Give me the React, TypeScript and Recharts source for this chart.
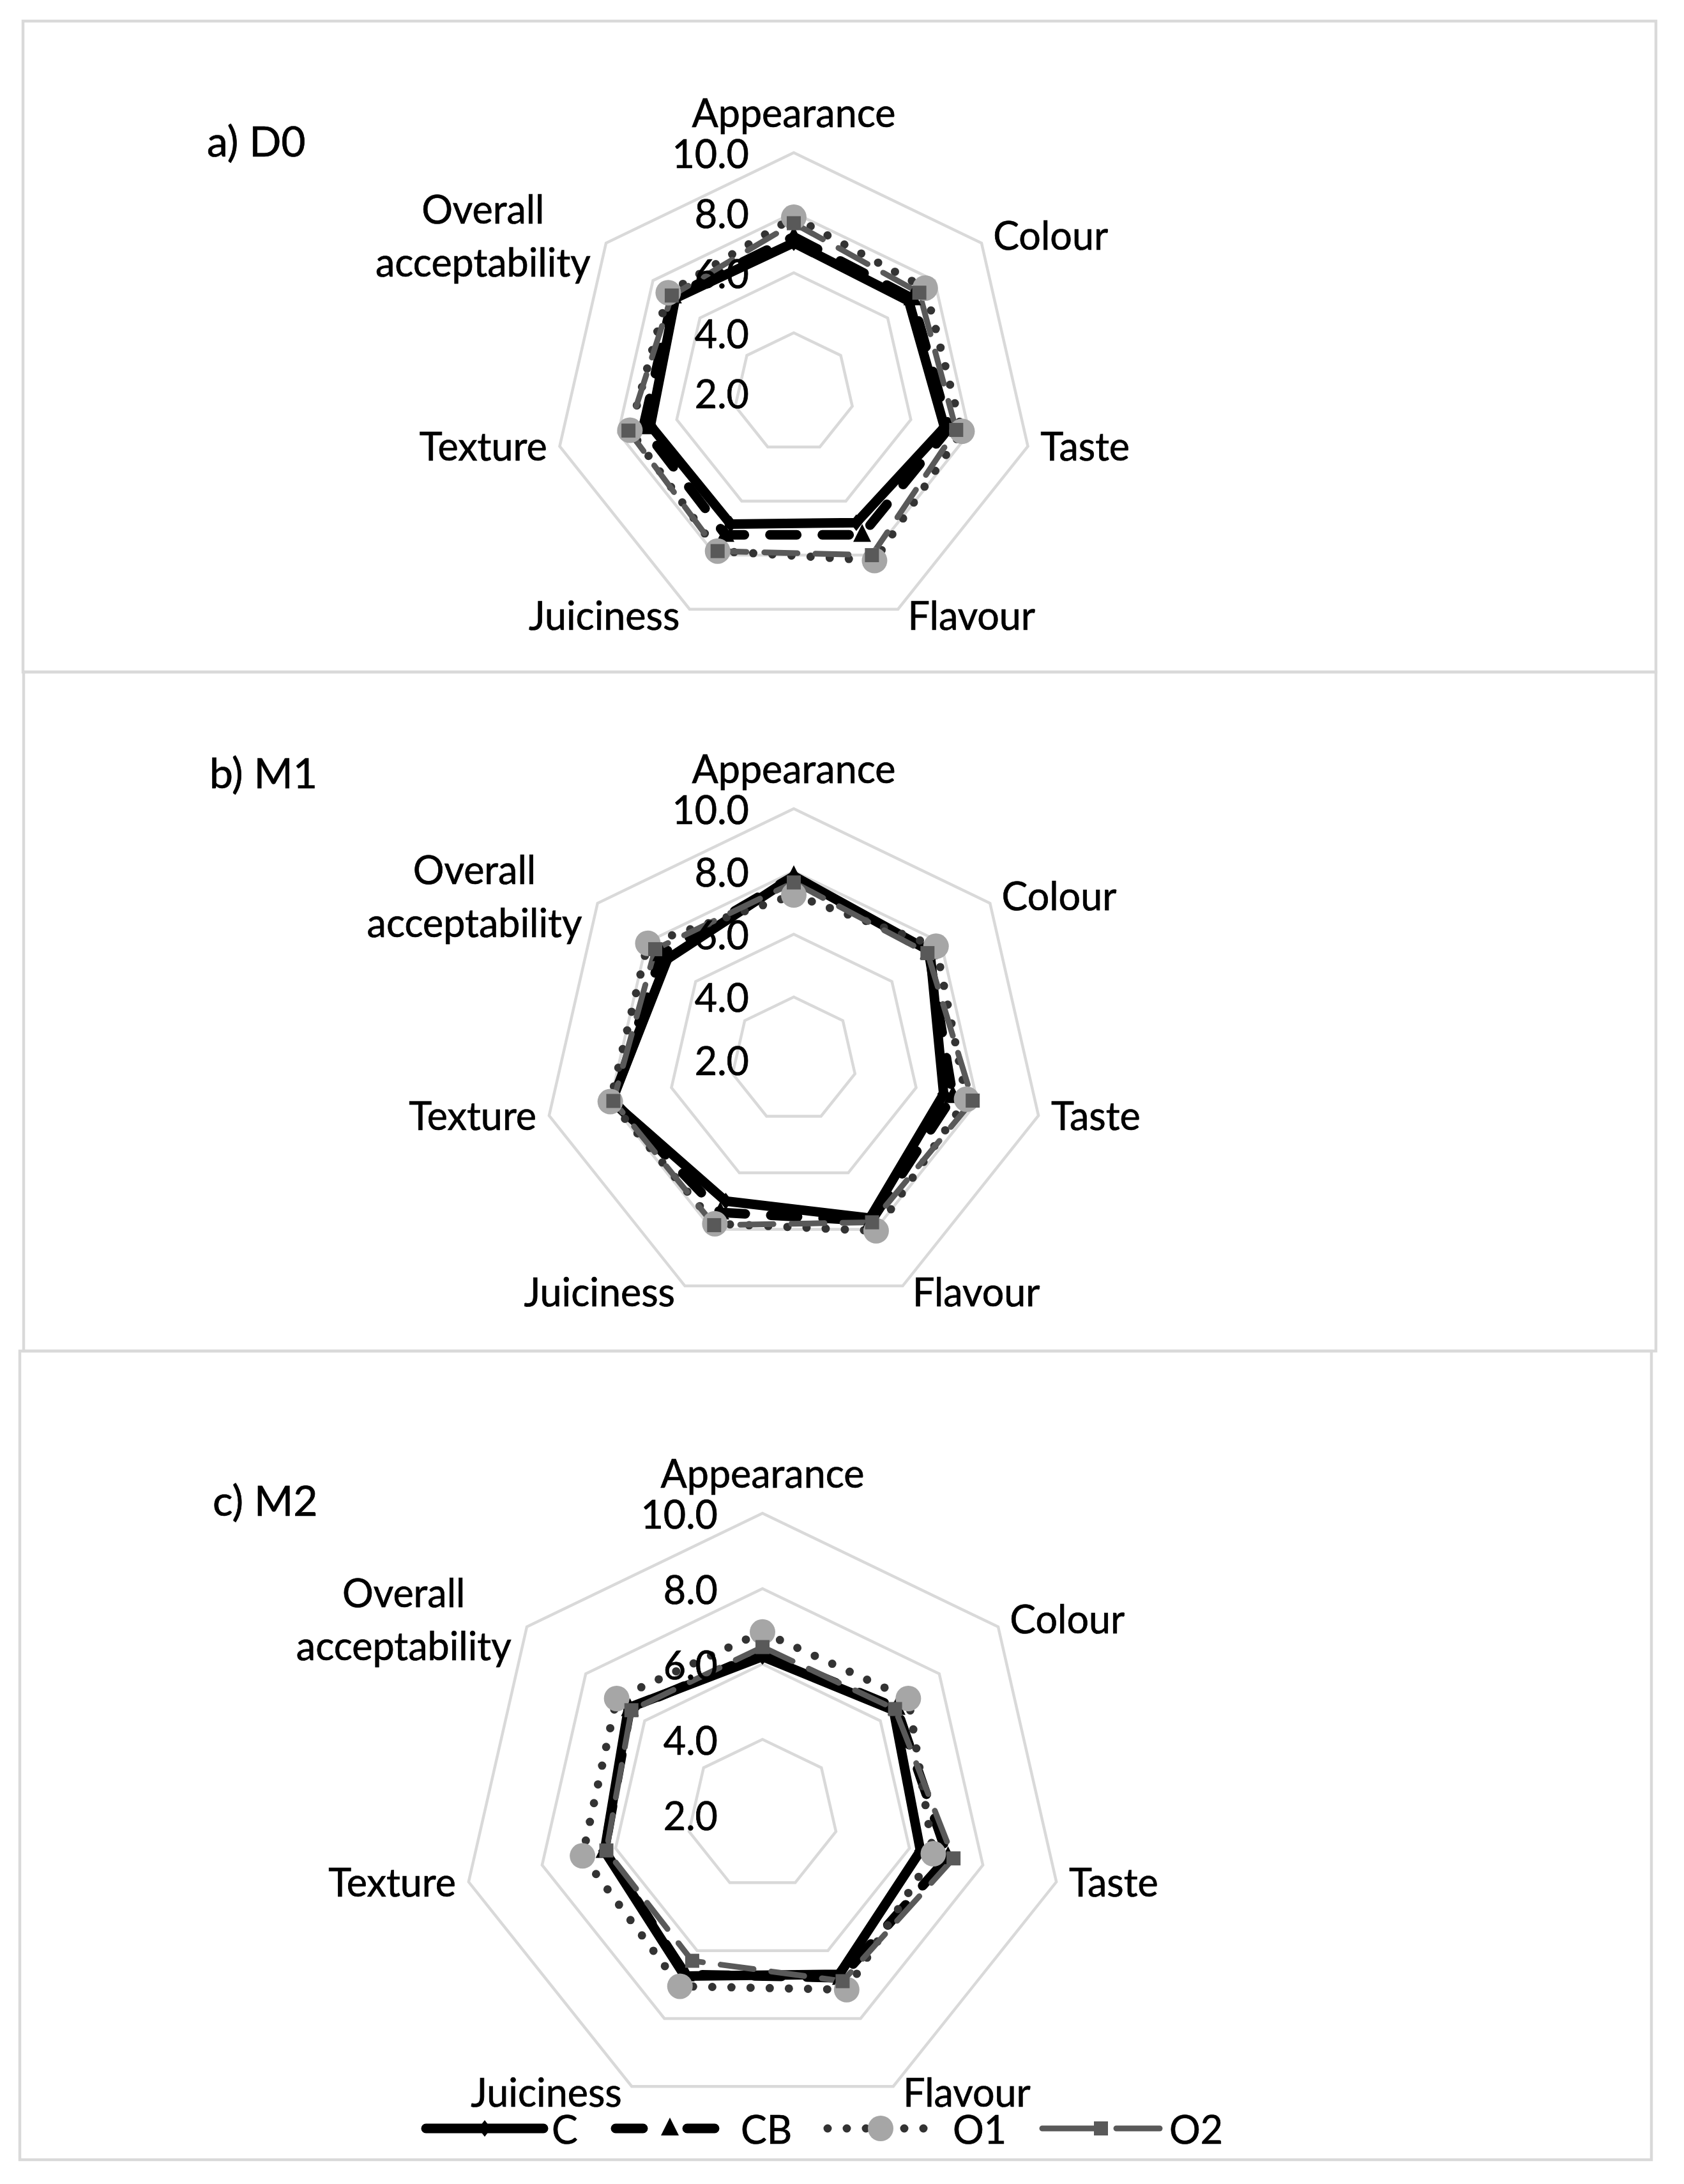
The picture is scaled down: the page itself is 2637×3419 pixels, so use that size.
import React from "react";
import { RadarChart, Radar, PolarGrid, PolarAngleAxis, PolarRadiusAxis, Legend } from "recharts";

const attributes = ["Appearance", "Colour", "Taste", "Flavour", "Juiciness", "Texture", "Overall acceptability"];
const radiusTicks = [2, 4, 6, 8, 10];
const seriesNames = ["C", "CB", "O1", "O2"];

// a) D0
const d0C = [7.0, 6.9, 7.15, 6.8, 6.85, 6.9, 7.05];
const d0CB = [7.2, 7.05, 7.3, 7.25, 7.25, 7.15, 7.15];
const d0O1 = [7.85, 7.6, 7.75, 8.2, 7.85, 7.6, 7.35];
const d0O2 = [7.65, 7.35, 7.55, 8.0, 7.85, 7.65, 7.2];

// b) M1
const m1C = [7.85, 7.55, 6.9, 7.6, 7.0, 7.95, 7.15];
const m1CB = [7.85, 7.5, 7.2, 7.7, 7.4, 7.9, 7.4];
const m1O1 = [7.25, 7.8, 7.65, 8.05, 7.8, 8.0, 7.95];
const m1O2 = [7.65, 7.45, 7.85, 7.75, 7.85, 7.9, 7.65];

// c) M2
const m2C = [6.2, 6.45, 6.3, 6.7, 6.75, 6.3, 6.55];
const m2CB = [6.3, 6.55, 7.05, 6.8, 6.7, 6.3, 6.5];
const m2O1 = [6.85, 6.95, 6.65, 7.15, 7.05, 6.9, 6.95];
const m2O2 = [6.45, 6.5, 7.2, 6.9, 6.3, 6.25, 6.45];

const FONT = "Lato, 'Noto Sans', sans-serif";
const LABEL_SIZE = 61;
const GRID = "#D9D9D9";

const toRows = (c: number[], cb: number[], o1: number[], o2: number[]) =>
  attributes.map((attr, i) => ({ attr, C: c[i], CB: cb[i], O1: o1[i], O2: o2[i] }));

const panels = [
  { title: "a) D0", box: [34, 31, 2561, 1023], titleAt: [324, 245], cx: 1243, cy: 615, r: 376, rows: toRows(d0C, d0CB, d0O1, d0O2) },
  { title: "b) M1", box: [35, 1050, 2560, 1067], titleAt: [328, 1234], cx: 1243, cy: 1659, r: 393, rows: toRows(m1C, m1CB, m1O1, m1O2) },
  { title: "c) M2", box: [29, 2113, 2559, 1270], titleAt: [333, 2373], cx: 1194, cy: 2841, r: 472, rows: toRows(m2C, m2CB, m2O1, m2O2), legend: true },
];

const diamond = (p: any) => (
  <path key={`dm-${p.index}`} d={`M${p.cx},${p.cy - 13}L${p.cx + 10},${p.cy}L${p.cx},${p.cy + 13}L${p.cx - 10},${p.cy}Z`} fill="#000" stroke="none" />
);
const triangle = (p: any) => (
  <path key={`tr-${p.index}`} d={`M${p.cx},${p.cy - 17}L${p.cx + 14},${p.cy + 11}L${p.cx - 14},${p.cy + 11}Z`} fill="#000" stroke="none" />
);
const circle = (p: any) => <circle key={`ci-${p.index}`} cx={p.cx} cy={p.cy} r={20} fill="#A6A6A6" stroke="none" />;
const square = (p: any) => <rect key={`sq-${p.index}`} x={p.cx - 11} y={p.cy - 11} width={22} height={22} fill="#595959" stroke="none" />;

const seriesStyle: Record<string, any> = {
  C: { stroke: "#000000", width: 15, dash: undefined, legendDash: undefined, dot: diamond },
  CB: { stroke: "#000000", width: 15, dash: "42 40", legendDash: "43 69", dot: triangle },
  O1: { stroke: "#333333", width: 13, dash: "0 30", legendDash: "0 30", dot: circle },
  O2: { stroke: "#595959", width: 9, dash: "52 28", legendDash: "82 34", dot: square },
};

const textInk = { fill: "#000", stroke: "#000", strokeWidth: 0.7 };

function AngleTick(props: any) {
  const { x, y, payload } = props;
  const a = (payload.coordinate * Math.PI) / 180;
  const c = Math.cos(a);
  const s = Math.sin(a);
  const text = String(payload.value);
  const words = text.split(" ");
  const common = { fontFamily: FONT, fontSize: LABEL_SIZE, dominantBaseline: "central" as any, ...textInk };
  if (Math.abs(c) < 0.01) {
    return <text x={x} y={y - 56} textAnchor="middle" {...common}>{text}</text>;
  }
  const gap = 12;
  const yc = y - 6 * s - 4;
  if (words.length > 1) {
    // wrapped label, lines centred on each other
    const longest = Math.max(...words.map((w) => w.length));
    const half = (longest * 0.44 * LABEL_SIZE) / 2;
    const xm = c > 0 ? x + gap + half : x - gap - half;
    return (
      <text textAnchor="middle" {...common}>
        {words.map((w, i) => (
          <tspan key={i} x={xm} y={yc + (i - (words.length - 1) / 2) * 83}>{w}</tspan>
        ))}
      </text>
    );
  }
  return (
    <text x={c > 0 ? x + gap : x - gap} y={yc} textAnchor={c > 0 ? "start" : "end"} {...common}>{text}</text>
  );
}

function RadiusTick(props: any) {
  const { x, y, payload } = props;
  return (
    <text x={x - 70} y={y} textAnchor="end" dominantBaseline="central" fontFamily={FONT} fontSize={LABEL_SIZE} {...textInk}>
      {Number(payload.value).toFixed(1)}
    </text>
  );
}

const legendSpots = [
  { x0: 667, x1: 851, tx: 864 },
  { x0: 964, x1: 1134, tx: 1160 },
  { x0: 1296, x1: 1462, tx: 1492 },
  { x0: 1632, x1: 1816, tx: 1831 },
];

function LegendContent(props: any) {
  const items = props.payload ?? [];
  const yc = 35;
  return (
    <svg width={2637} height={70} style={{ display: "block" }}>
      {items.map((it: any, i: number) => {
        const st = seriesStyle[it.value];
        const sp = legendSpots[i];
        if (!st || !sp) return null;
        const mid = (sp.x0 + sp.x1) / 2;
        return (
          <g key={it.value}>
            <line x1={sp.x0} y1={yc} x2={sp.x1} y2={yc} stroke={st.stroke} strokeWidth={st.width} strokeDasharray={st.legendDash} strokeLinecap="round" />
            {st.dot({ cx: mid, cy: yc, index: i })}
            <text x={sp.tx} y={yc} dominantBaseline="central" fontFamily={FONT} fontSize={LABEL_SIZE} {...textInk}>{it.value}</text>
          </g>
        );
      })}
    </svg>
  );
}

export default function App() {
  return (
    <div style={{ position: "absolute", left: 0, top: 0, width: 2637, height: 3419, background: "#fff", fontFamily: FONT }}>
      <svg width={2637} height={3419} style={{ position: "absolute", left: 0, top: 0 }}>
        {panels.map((p) => (
          <g key={p.title}>
            <rect x={p.box[0] + 2} y={p.box[1] + 2} width={p.box[2] - 4} height={p.box[3] - 4} fill="none" stroke={GRID} strokeWidth={4.5} />
            <text x={p.titleAt[0]} y={p.titleAt[1]} fontFamily={FONT} fontSize={66} {...textInk}>{p.title}</text>
          </g>
        ))}
      </svg>
      {panels.map((p) => (
        <div key={p.title} style={{ position: "absolute", left: 0, top: p.box[1], width: 2637, height: p.box[3] }}>
          <RadarChart
            width={2637}
            height={p.box[3]}
            data={p.rows}
            cx={p.cx}
            cy={p.cy - p.box[1]}
            outerRadius={p.r}
            startAngle={90}
            endAngle={-270}
            margin={{ top: 0, right: 0, bottom: 0, left: 0 }}
          >
            <PolarGrid gridType="polygon" radialLines={false} stroke={GRID} strokeWidth={4.5} />
            <PolarAngleAxis dataKey="attr" tick={<AngleTick />} tickLine={false} axisLine={false} tickSize={0} />
            <PolarRadiusAxis angle={90} domain={[2, 10]} ticks={radiusTicks} tick={<RadiusTick />} axisLine={false} tickLine={false} />
            {seriesNames.map((k) => {
              const st = seriesStyle[k];
              return (
                <Radar
                  key={k}
                  name={k}
                  dataKey={k}
                  stroke={st.stroke}
                  strokeWidth={st.width}
                  strokeDasharray={st.dash}
                  strokeLinecap="round"
                  strokeLinejoin="round"
                  fill="none"
                  fillOpacity={0}
                  dot={st.dot}
                  isAnimationActive={false}
                />
              );
            })}
            {p.legend && (
              <Legend
                width={2637}
                height={70}
                content={<LegendContent />}
                wrapperStyle={{ left: 0, top: 3332 - 35 - p.box[1] }}
              />
            )}
          </RadarChart>
        </div>
      ))}
    </div>
  );
}
